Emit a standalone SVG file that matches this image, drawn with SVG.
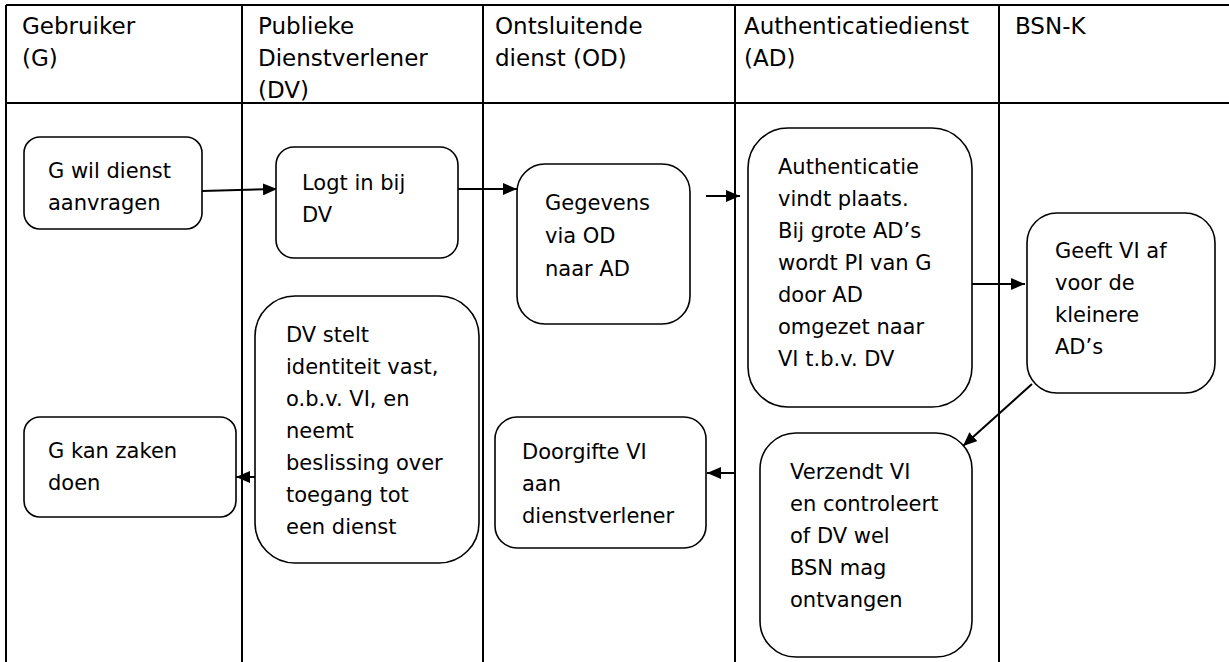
<svg xmlns="http://www.w3.org/2000/svg" width="1229" height="662" viewBox="0 0 1229 662">
<style>
  .grid { stroke:#000; stroke-width:2; fill:none; }
  .box { fill:#fff; stroke:#000; stroke-width:1.6; }
  .t { font-family:"DejaVu Sans", Verdana, sans-serif; font-size:21px; fill:#000; }
  .h { font-family:"DejaVu Sans", Verdana, sans-serif; font-size:23px; fill:#000; }
  .conn { stroke:#000; stroke-width:2; fill:none; marker-end:url(#ah); }
</style>
<defs>
  <marker id="ah" markerWidth="14" markerHeight="12" refX="14" refY="6" orient="auto" markerUnits="userSpaceOnUse">
    <path d="M0,0 L14,6 L0,12 Z" fill="#000"/>
  </marker>
</defs>
<rect width="1229" height="662" fill="#fff"/>
<g id="table">
  <line class="grid" x1="6" y1="5" x2="1229" y2="5"/>
  <line class="grid" x1="6" y1="103" x2="1229" y2="103"/>
  <line class="grid" x1="6" y1="5" x2="6" y2="662"/>
  <line class="grid" x1="242" y1="5" x2="242" y2="662"/>
  <line class="grid" x1="483" y1="5" x2="483" y2="662"/>
  <line class="grid" x1="735" y1="5" x2="735" y2="662"/>
  <line class="grid" x1="999" y1="5" x2="999" y2="662"/>
</g>
<g id="headers" class="h">
  <text x="22" y="34">Gebruiker</text>
  <text x="22" y="66">(G)</text>
  <text x="258" y="34">Publieke</text>
  <text x="258" y="66">Dienstverlener</text>
  <text x="258" y="98">(DV)</text>
  <text x="495" y="34">Ontsluitende</text>
  <text x="495" y="66">dienst (OD)</text>
  <text x="744" y="34">Authenticatiedienst</text>
  <text x="744" y="66">(AD)</text>
  <text x="1015" y="34">BSN-K</text>
</g>
<g id="connectors">
  <line class="conn" x1="202" y1="191" x2="277" y2="189"/>
  <line class="conn" x1="458" y1="189" x2="517" y2="189"/>
  <line class="conn" x1="706" y1="196" x2="740" y2="196"/>
  <line class="conn" x1="972" y1="284" x2="1025" y2="284"/>
  <line class="conn" x1="1032" y1="384" x2="963" y2="446"/>
  <line class="conn" x1="255" y1="477" x2="236" y2="477"/>
  <line class="conn" x1="735" y1="473" x2="707" y2="473"/>
</g>
<g id="n1">
  <rect class="box" x="24" y="137" width="178" height="92" rx="16"/>
  <text class="t" x="48" y="178">G wil dienst</text>
  <text class="t" x="48" y="210">aanvragen</text>
</g>
<g id="n2">
  <rect class="box" x="276" y="147" width="182" height="111" rx="18"/>
  <text class="t" x="302" y="190">Logt in bij</text>
  <text class="t" x="302" y="222">DV</text>
</g>
<g id="n3">
  <rect class="box" x="517" y="164" width="173" height="160" rx="28"/>
  <text class="t" x="545" y="210">Gegevens</text>
  <text class="t" x="545" y="243">via OD</text>
  <text class="t" x="545" y="276">naar AD</text>
</g>
<g id="n4">
  <rect class="box" x="748" y="128" width="224" height="279" rx="40"/>
  <text class="t" x="778" y="174">Authenticatie</text>
  <text class="t" x="778" y="206">vindt plaats.</text>
  <text class="t" x="778" y="238">Bij grote AD’s</text>
  <text class="t" x="778" y="270">wordt PI van G</text>
  <text class="t" x="778" y="302">door AD</text>
  <text class="t" x="778" y="334">omgezet naar</text>
  <text class="t" x="778" y="366">VI t.b.v. DV</text>
</g>
<g id="n5">
  <rect class="box" x="1027" y="213" width="188" height="180" rx="30"/>
  <text class="t" x="1055" y="258">Geeft VI af</text>
  <text class="t" x="1055" y="290">voor de</text>
  <text class="t" x="1055" y="322">kleinere</text>
  <text class="t" x="1055" y="354">AD’s</text>
</g>
<g id="n6">
  <rect class="box" x="255" y="296" width="224" height="267" rx="40"/>
  <text class="t" x="286" y="342">DV stelt</text>
  <text class="t" x="286" y="374">identiteit vast,</text>
  <text class="t" x="286" y="406">o.b.v. VI, en</text>
  <text class="t" x="286" y="438">neemt</text>
  <text class="t" x="286" y="470">beslissing over</text>
  <text class="t" x="286" y="502">toegang tot</text>
  <text class="t" x="286" y="534">een dienst</text>
</g>
<g id="n7">
  <rect class="box" x="24" y="417" width="212" height="100" rx="16"/>
  <text class="t" x="48" y="458">G kan zaken</text>
  <text class="t" x="48" y="490">doen</text>
</g>
<g id="n8">
  <rect class="box" x="495" y="417" width="211" height="131" rx="22"/>
  <text class="t" x="522" y="459">Doorgifte VI</text>
  <text class="t" x="522" y="491">aan</text>
  <text class="t" x="522" y="523">dienstverlener</text>
</g>
<g id="n9">
  <rect class="box" x="760" y="433" width="212" height="224" rx="36"/>
  <text class="t" x="790" y="479">Verzendt VI</text>
  <text class="t" x="790" y="511">en controleert</text>
  <text class="t" x="790" y="543">of DV wel</text>
  <text class="t" x="790" y="575">BSN mag</text>
  <text class="t" x="790" y="607">ontvangen</text>
</g>
</svg>
